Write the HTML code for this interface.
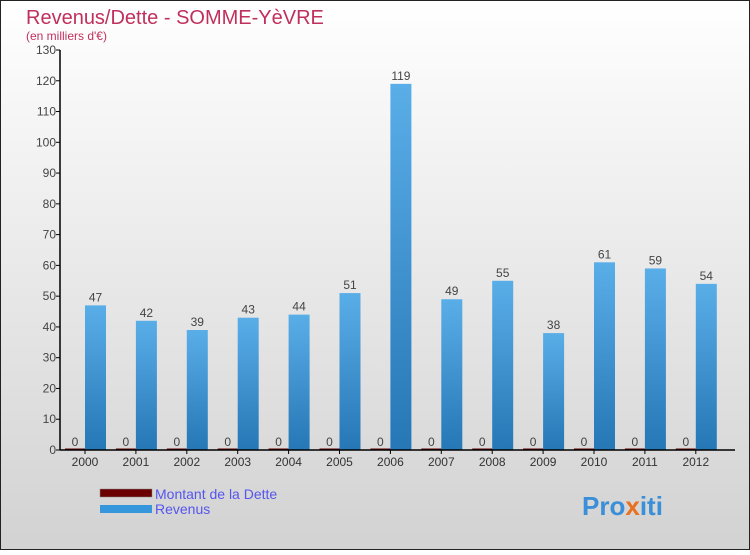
<!DOCTYPE html>
<html><head><meta charset="utf-8"><style>
body{margin:0}
#c{width:750px;height:550px;position:relative;font-family:"Liberation Sans",sans-serif}
</style></head><body>
<div id="c">
<svg width="750" height="550" xmlns="http://www.w3.org/2000/svg" id="svg">
<defs>
<linearGradient id="bg" x1="0" y1="0" x2="0" y2="1"><stop offset="0" stop-color="#ffffff"/><stop offset="1" stop-color="#d2d2d2"/></linearGradient>
<linearGradient id="bl" x1="0" y1="0" x2="0" y2="1"><stop offset="0" stop-color="#5aaee8"/><stop offset="1" stop-color="#2577b5"/></linearGradient>
</defs>
<rect x="0.5" y="0.5" width="749" height="549" fill="url(#bg)" stroke="#222"/>
<text x="26" y="24" font-size="20" fill="#c0305e">Revenus/Dette - SOMME-YèVRE</text>
<text x="26" y="40" font-size="12" fill="#c0305e">(en milliers d'€)</text>
<g id="plot"></g>
<rect x="100" y="489" width="52" height="8" fill="#6a0000" stroke="#888" stroke-width="0.5"/>
<text x="155" y="499" font-size="14" fill="#5555ee">Montant de la Dette</text>
<rect x="100" y="505" width="52" height="8" fill="#3596dc"/>
<text x="155" y="514" font-size="14" fill="#5555ee">Revenus</text>
<text x="582" y="515" font-size="26" font-weight="bold" fill="#3a8fd8">Pro<tspan fill="#e87020">x</tspan>iti</text>
</svg>
</div>
<script>
const years=["2000","2001","2002","2003","2004","2005","2006","2007","2008","2009","2010","2011","2012"];
const revenus=[47,42,39,43,44,51,119,49,55,38,61,59,54];
const dette=[0,0,0,0,0,0,0,0,0,0,0,0,0];
const yTicks=[0,10,20,30,40,50,60,70,80,90,100,110,120,130];
const NS="http://www.w3.org/2000/svg";
const g=document.getElementById("plot");
const y0=450,yTop=50,yMax=130;
const yS=v=>y0-(v/yMax)*(y0-yTop);
const gx=i=>65+i*50.9;
function mk(t,a,txt){const e=document.createElementNS(NS,t);for(const k in a)e.setAttribute(k,a[k]);if(txt!==undefined)e.textContent=txt;g.appendChild(e);return e;}
yTicks.forEach(v=>{
 const t=mk("line",{x1:56,x2:60,y1:yS(v),y2:yS(v),stroke:"#000"});
 
 
 const l=mk("text",{x:56,y:yS(v)+4,"font-size":12,"text-anchor":"end",fill:"#444"},v);
 
 
});
years.forEach((yr,i)=>{
 const x=gx(i);
 const d=mk("rect",{x:x,y:yS(dette[i])-1.5,width:20,height:(y0-yS(dette[i]))+1.5,fill:"#6a0000"});
 
 
 const dl=mk("text",{x:x+10,y:yS(dette[i])-4,"font-size":12,"text-anchor":"middle",fill:"#444"},dette[i]);
 
 
 const r=mk("rect",{x:x+20,y:yS(revenus[i]),width:21,height:y0-yS(revenus[i]),fill:"url(#bl)"});
 
 
 const rl=mk("text",{x:x+30.5,y:yS(revenus[i])-4,"font-size":12,"text-anchor":"middle",fill:"#444"},revenus[i]);
 
 
 const xl=mk("text",{x:x+20,y:466,"font-size":12,"text-anchor":"middle",fill:"#333"},yr);
 
 
 const xt=mk("line",{x1:x+20,x2:x+20,y1:450,y2:454,stroke:"#000"});
 
 
});
const ya=mk("line",{x1:60,x2:60,y1:50,y2:450,stroke:"#000","stroke-width":1.5});


const xa=mk("line",{x1:60,x2:735,y1:450,y2:450,stroke:"#000","stroke-width":1.5});


</script>
</body></html>
